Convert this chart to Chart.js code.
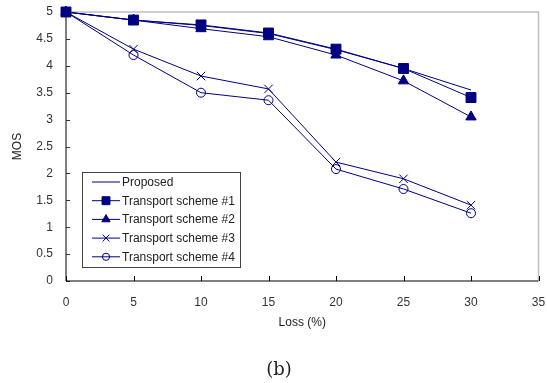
<!DOCTYPE html>
<html><head><meta charset="utf-8">
<script src="https://cdn.jsdelivr.net/npm/chart.js@4"></script>
<style>html,body{margin:0;padding:0;background:#fff}#c{display:block}</style>
</head><body>
<canvas id="c" width="547" height="383"></canvas>
<script>
// ---- data ----
const lossPct   = [0, 5, 10, 15, 20, 25, 30];
const proposed  = [5, 4.85, 4.75, 4.6, 4.3, 3.95, 3.55];
const scheme1   = [5, 4.85, 4.76, 4.61, 4.31, 3.95, 3.41];
const scheme2   = [5, 4.85, 4.69, 4.54, 4.2, 3.72, 3.05];
const scheme3   = [5, 4.31, 3.81, 3.57, 2.21, 1.9, 1.41];
const scheme4   = [5, 4.2, 3.5, 3.36, 2.08, 1.71, 1.26];
const seriesNames = ['Proposed', 'Transport scheme #1', 'Transport scheme #2', 'Transport scheme #3', 'Transport scheme #4'];
const xTicks = [0, 5, 10, 15, 20, 25, 30, 35];
const yTicks = [0, 0.5, 1, 1.5, 2, 2.5, 3, 3.5, 4, 4.5, 5];
const xTitle = 'Loss (%)';
const yTitle = 'MOS';
const caption = '(b)';

const NAVY = '#000080';
const FONT = '"Liberation Sans", Arial, sans-serif';

const pts = arr => arr.map((v, i) => ({x: lossPct[i], y: v}));
const styles = [
  {pointStyle: false, pointRadius: 0, bg: NAVY},
  {pointStyle: 'rect', pointRadius: 7, bg: NAVY},
  {pointStyle: 'triangle', pointRadius: 6, bg: NAVY},
  {pointStyle: 'crossRot', pointRadius: 6, bg: NAVY},
  {pointStyle: 'circle', pointRadius: 4.5, bg: 'rgba(0,0,0,0)'}
];
const allSeries = [proposed, scheme1, scheme2, scheme3, scheme4];
const datasets = allSeries.map((s, i) => ({
  label: seriesNames[i],
  data: pts(s),
  borderColor: NAVY,
  borderWidth: 1,
  backgroundColor: styles[i].bg,
  pointStyle: styles[i].pointStyle,
  pointRadius: styles[i].pointRadius,
  pointBorderColor: NAVY,
  pointBackgroundColor: styles[i].bg,
  pointBorderWidth: 1,
  pointHoverRadius: styles[i].pointRadius,
  tension: 0,
  fill: false,
  clip: false
}));

function drawMarker(ctx, style, r, x, y, fill) {
  ctx.save();
  ctx.strokeStyle = NAVY; ctx.fillStyle = fill; ctx.lineWidth = 1;
  ctx.beginPath();
  if (style === 'rect') {
    const s = Math.SQRT1_2 * r; ctx.rect(x - s, y - s, 2 * s, 2 * s); ctx.fill(); ctx.stroke();
  } else if (style === 'triangle') {
    ctx.moveTo(x, y - r);
    ctx.lineTo(x + Math.cos(Math.PI/6) * r, y + Math.sin(Math.PI/6) * r);
    ctx.lineTo(x - Math.cos(Math.PI/6) * r, y + Math.sin(Math.PI/6) * r);
    ctx.closePath(); ctx.fill(); ctx.stroke();
  } else if (style === 'crossRot') {
    const o = Math.SQRT1_2 * r;
    ctx.moveTo(x - o, y - o); ctx.lineTo(x + o, y + o);
    ctx.moveTo(x - o, y + o); ctx.lineTo(x + o, y - o); ctx.stroke();
  } else if (style === 'circle') {
    ctx.arc(x, y, r, 0, Math.PI * 2); ctx.stroke();
  }
  ctx.restore();
}

const framePlugin = {
  id: 'frame',
  beforeDatasetsDraw(chart) {
    const {ctx, chartArea: a, scales} = chart;
    ctx.save();
    ctx.strokeStyle = '#c0c0c0'; ctx.lineWidth = 1.5;
    ctx.beginPath();
    ctx.moveTo(a.left, a.top); ctx.lineTo(a.right, a.top); ctx.lineTo(a.right, a.bottom);
    ctx.stroke();
    ctx.strokeStyle = '#555'; ctx.lineWidth = 1.5;
    ctx.beginPath(); ctx.moveTo(a.left, a.top); ctx.lineTo(a.left, a.bottom); ctx.stroke();
    ctx.lineWidth = 1; ctx.strokeStyle = '#333';
    yTicks.forEach(v => {
      const py = Math.round(scales.y.getPixelForValue(v)) + 0.5;
      ctx.beginPath(); ctx.moveTo(a.left, py); ctx.lineTo(a.left + 4, py); ctx.stroke();
    });
    ctx.strokeStyle = '#000'; ctx.lineWidth = 1.2;
    ctx.beginPath(); ctx.moveTo(a.left, a.bottom); ctx.lineTo(a.right, a.bottom); ctx.stroke();
    ctx.lineWidth = 1;
    xTicks.forEach(v => {
      const px = Math.round(scales.x.getPixelForValue(v)) + 0.5;
      ctx.beginPath(); ctx.moveTo(px, a.bottom); ctx.lineTo(px, a.bottom - 5); ctx.stroke();
    });
    ctx.restore();
  },
  afterDatasetsDraw(chart) {
    const {ctx} = chart;
    ctx.save();
    const bx = 82.5, by = 172.5, bw = 158, bh = 95;
    ctx.fillStyle = '#fff'; ctx.fillRect(bx, by, bw, bh);
    ctx.strokeStyle = '#444'; ctx.lineWidth = 1; ctx.strokeRect(bx, by, bw, bh);
    ctx.font = '12px ' + FONT; ctx.fillStyle = '#222';
    ctx.textBaseline = 'middle'; ctx.textAlign = 'left';
    chart.data.datasets.forEach((ds, i) => {
      const y = 182 + i * 18.7;
      ctx.strokeStyle = NAVY; ctx.lineWidth = 1;
      ctx.beginPath(); ctx.moveTo(92, y); ctx.lineTo(120, y); ctx.stroke();
      if (ds.pointStyle) drawMarker(ctx, ds.pointStyle, ds.pointRadius * 0.8, 106, y, ds.pointBackgroundColor);
      ctx.fillText(ds.label, 122, y + 0.5);
    });
    ctx.restore();
  },
  afterDraw(chart) {
    const {ctx} = chart;
    ctx.save();
    ctx.font = '18px "DejaVu Serif", "Liberation Serif", serif';
    ctx.fillStyle = '#222'; ctx.textAlign = 'center'; ctx.textBaseline = 'middle';
    ctx.fillText(caption, 279, 370);
    ctx.restore();
  }
};

const zeroPad = s => { s.paddingTop = 0; s.paddingBottom = 0; s.paddingLeft = 0; s.paddingRight = 0; };

new Chart(document.getElementById('c'), {
  type: 'line',
  data: {datasets},
  plugins: [framePlugin],
  options: {
    responsive: false,
    animation: false,
    devicePixelRatio: 1,
    layout: {padding: {left: 0, right: 8.5, top: 12, bottom: 52.8}},
    plugins: {legend: {display: false}, tooltip: {enabled: false}, title: {display: false}},
    elements: {line: {borderWidth: 1}},
    scales: {
      x: {
        type: 'linear', min: 0, max: 35,
        afterBuildTicks: s => { s.ticks = xTicks.map(v => ({value: v})); },
        afterFit: s => { s.height = 49.2; zeroPad(s); },
        grid: {display: false, drawTicks: false},
        border: {display: false},
        ticks: {color: '#333', font: {family: FONT, size: 12}, padding: 14, maxRotation: 0, autoSkip: false,
                callback: v => String(v)},
        title: {display: true, text: xTitle, color: '#222', font: {family: FONT, size: 12}, padding: {top: 0, bottom: 0}}
      },
      y: {
        min: 0, max: 5,
        afterBuildTicks: s => { s.ticks = yTicks.map(v => ({value: v})); },
        afterFit: s => { s.width = 66; zeroPad(s); },
        grid: {display: false, drawTicks: false},
        border: {display: false},
        ticks: {color: '#333', font: {family: FONT, size: 12}, padding: 13, autoSkip: false,
                callback: v => String(v)},
        title: {display: true, text: yTitle, color: '#222', font: {family: FONT, size: 12}, padding: {top: 10, bottom: 0}}
      }
    }
  }
});
</script>
</body></html>
